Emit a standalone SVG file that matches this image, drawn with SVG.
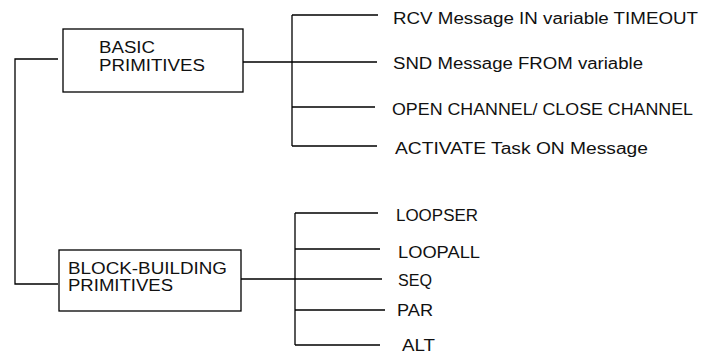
<svg xmlns="http://www.w3.org/2000/svg" width="701" height="353" viewBox="0 0 701 353">
<style>
.ln{stroke:#000;stroke-width:1.3;fill:none}
.bx{stroke:#000;stroke-width:1.3;fill:#fff}
text{font-family:"Liberation Sans",Arial,sans-serif;fill:#111}
.bt{font-size:16px}
.lt{font-size:16px}
</style>
<rect width="701" height="353" fill="#fff"/>
<g id="connectors">
<path class="ln" d="M58 59H15V284H58"/>
<path class="ln" d="M292 15V146M292 15H378M243 62H377M292 107H375M292 146H377"/>
<path class="ln" d="M295 213V345M295 213H378M295 249H380M241 279H382M295 310H385M295 345H380"/>
</g>
<g id="basic">
<rect class="bx" x="63" y="29" width="180" height="63"/>
<text class="bt" x="99" y="53" textLength="56" lengthAdjust="spacingAndGlyphs">BASIC</text>
<text class="bt" x="99" y="71" textLength="106" lengthAdjust="spacingAndGlyphs">PRIMITIVES</text>
</g>
<g id="block">
<rect class="bx" x="59" y="250" width="182" height="61"/>
<text class="bt" x="68" y="274" textLength="159" lengthAdjust="spacingAndGlyphs">BLOCK-BUILDING</text>
<text class="bt" x="68" y="291" textLength="105" lengthAdjust="spacingAndGlyphs">PRIMITIVES</text>
</g>
<g id="rcv"><text class="lt" x="393" y="24" textLength="305" lengthAdjust="spacingAndGlyphs">RCV Message IN variable TIMEOUT</text></g>
<g id="snd"><text class="lt" x="393" y="69" textLength="250" lengthAdjust="spacingAndGlyphs">SND Message FROM variable</text></g>
<g id="open"><text class="lt" x="392" y="115" textLength="301" lengthAdjust="spacingAndGlyphs">OPEN CHANNEL/ CLOSE CHANNEL</text></g>
<g id="activate"><text class="lt" x="395" y="154" textLength="253" lengthAdjust="spacingAndGlyphs">ACTIVATE Task ON Message</text></g>
<g id="loopser"><text class="lt" x="396" y="221" textLength="82" lengthAdjust="spacingAndGlyphs">LOOPSER</text></g>
<g id="loopall"><text class="lt" x="398" y="258" textLength="82" lengthAdjust="spacingAndGlyphs">LOOPALL</text></g>
<g id="seq"><text class="lt" x="398" y="286" textLength="34" lengthAdjust="spacingAndGlyphs">SEQ</text></g>
<g id="par"><text class="lt" x="397" y="316" textLength="36" lengthAdjust="spacingAndGlyphs">PAR</text></g>
<g id="alt"><text class="lt" x="402" y="351" textLength="33" lengthAdjust="spacingAndGlyphs">ALT</text></g>
</svg>
